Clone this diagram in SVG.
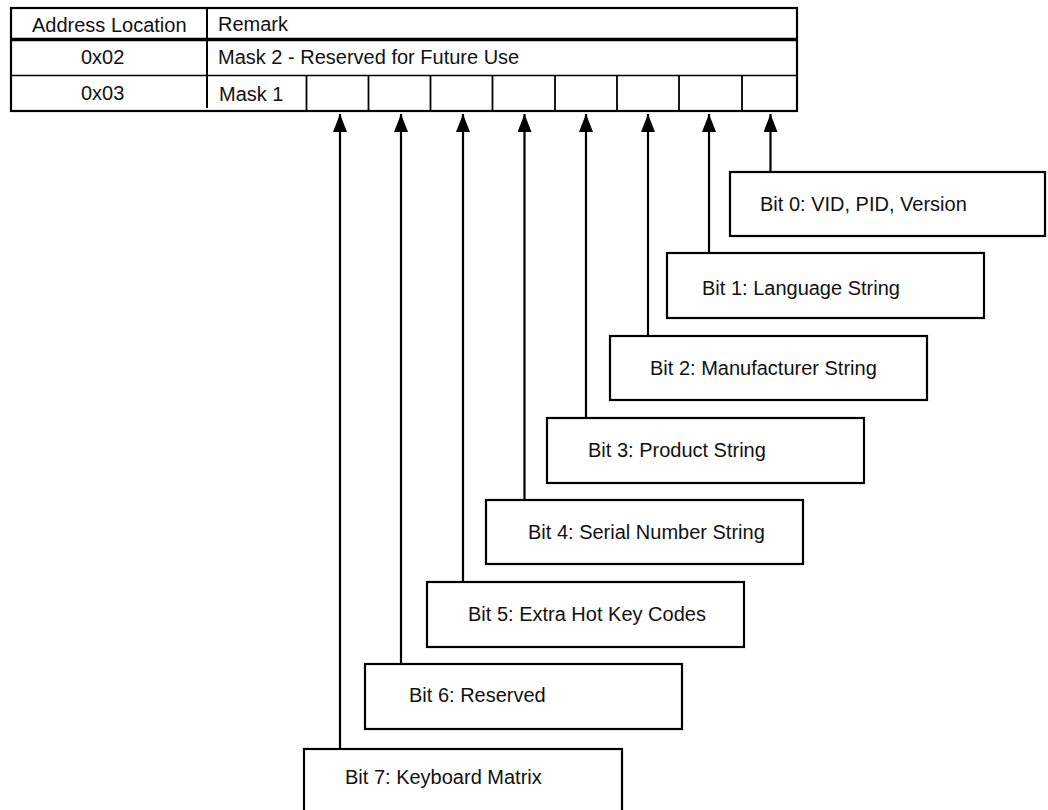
<svg xmlns="http://www.w3.org/2000/svg" width="1048" height="810" viewBox="0 0 1048 810">
<style>
text{font-family:"Liberation Sans",Arial,Helvetica,sans-serif;font-size:20px;fill:#111}
.box{fill:#fff;stroke:#000;stroke-width:2.2}
.tl{stroke:#000;fill:none}
.conn{stroke:#000;stroke-width:2.2;fill:none;marker-end:url(#ah)}
</style>
<defs>
<marker id="ah" markerUnits="userSpaceOnUse" markerWidth="19" markerHeight="14" refX="18" refY="7" orient="auto" viewBox="0 0 19 14">
<path d="M0,0 L18,7 L0,14 z" fill="#000"/>
</marker>
</defs>
<rect width="1048" height="810" fill="#fff"/>
<g id="table">
<rect x="11" y="8" width="786" height="103" fill="#fff" stroke="#000" stroke-width="2.2"/>
<line class="tl" x1="11" y1="39.5" x2="797" y2="39.5" stroke-width="3.5"/>
<line class="tl" x1="11" y1="75.5" x2="797" y2="75.5" stroke-width="1.6"/>
<line class="tl" x1="207" y1="8" x2="207" y2="108" stroke-width="2"/>
<line class="tl" x1="306.5" y1="76" x2="306.5" y2="111" stroke-width="1.8"/>
<line class="tl" x1="368.5" y1="76" x2="368.5" y2="111" stroke-width="1.8"/>
<line class="tl" x1="430.5" y1="76" x2="430.5" y2="111" stroke-width="1.8"/>
<line class="tl" x1="492.5" y1="76" x2="492.5" y2="111" stroke-width="1.8"/>
<line class="tl" x1="555" y1="76" x2="555" y2="111" stroke-width="1.8"/>
<line class="tl" x1="617" y1="76" x2="617" y2="111" stroke-width="1.8"/>
<line class="tl" x1="679" y1="76" x2="679" y2="111" stroke-width="1.8"/>
<line class="tl" x1="742" y1="76" x2="742" y2="111" stroke-width="1.8"/>
<text x="32" y="32">Address Location</text>
<text x="218" y="31">Remark</text>
<text x="81" y="63.5">0x02</text>
<text x="218" y="63.5">Mask 2 - Reserved for Future Use</text>
<text x="81" y="100">0x03</text>
<text x="219" y="101">Mask 1</text>
</g>
<g id="connectors">
<line class="conn" x1="770.5" y1="172" x2="770.5" y2="114"/>
<line class="conn" x1="709" y1="253" x2="709" y2="114"/>
<line class="conn" x1="648" y1="336" x2="648" y2="114"/>
<line class="conn" x1="586" y1="418" x2="586" y2="114"/>
<line class="conn" x1="524.5" y1="500" x2="524.5" y2="114"/>
<line class="conn" x1="463" y1="582" x2="463" y2="114"/>
<line class="conn" x1="401" y1="664" x2="401" y2="114"/>
<line class="conn" x1="340" y1="749" x2="340" y2="114"/>
</g>
<g id="bit0"><rect class="box" x="730" y="172" width="315" height="64"/><text x="760" y="211">Bit 0: VID, PID, Version</text></g>
<g id="bit1"><rect class="box" x="667" y="253" width="317" height="65"/><text x="702" y="295">Bit 1: Language String</text></g>
<g id="bit2"><rect class="box" x="610" y="336" width="317" height="64"/><text x="650" y="375">Bit 2: Manufacturer String</text></g>
<g id="bit3"><rect class="box" x="547" y="418" width="317" height="65"/><text x="588" y="457">Bit 3: Product String</text></g>
<g id="bit4"><rect class="box" x="486" y="500" width="317" height="64"/><text x="528" y="539">Bit 4: Serial Number String</text></g>
<g id="bit5"><rect class="box" x="427" y="582" width="317" height="65"/><text x="468" y="621">Bit 5: Extra Hot Key Codes</text></g>
<g id="bit6"><rect class="box" x="365" y="664" width="317" height="65"/><text x="409" y="702">Bit 6: Reserved</text></g>
<g id="bit7"><rect class="box" x="304" y="749" width="318" height="70"/><text x="345" y="784">Bit 7: Keyboard Matrix</text></g>
</svg>
